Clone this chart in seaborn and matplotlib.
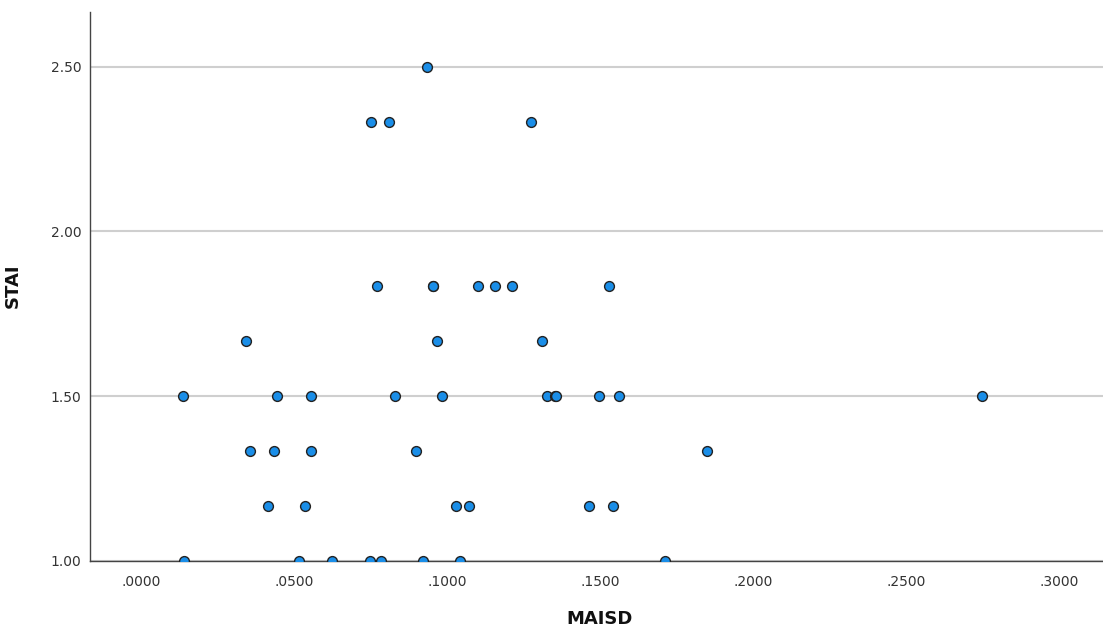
import numpy as np
import pandas as pd
import matplotlib
matplotlib.use("Agg")
import matplotlib.pyplot as plt
import seaborn as sns

# MAISD vs STAI values
maisd = [
    0.0935,
    0.0752, 0.0810, 0.1275,
    0.0771, 0.0953, 0.0954, 0.1101, 0.1157, 0.1212, 0.1529,
    0.0343, 0.0967, 0.1310,
    0.0137, 0.0444, 0.0556, 0.0830, 0.0984, 0.1327, 0.1353, 0.1355, 0.1497, 0.1562, 0.2748,
    0.0356, 0.0435, 0.0556, 0.0899, 0.1850,
    0.0415, 0.0536, 0.1029, 0.1072, 0.1464, 0.1542,
    0.0141, 0.0516, 0.0624, 0.0748, 0.0784, 0.0922, 0.1042, 0.1712,
]
stai = (
    [2.5]
    + [7 / 3] * 3
    + [11 / 6] * 7
    + [5 / 3] * 3
    + [1.5] * 11
    + [4 / 3] * 5
    + [7 / 6] * 6
    + [1.0] * 8
)
x_ticks = [0.0, 0.05, 0.10, 0.15, 0.20, 0.25, 0.30]
x_tick_labels = [".0000", ".0500", ".1000", ".1500", ".2000", ".2500", ".3000"]
y_ticks = [1.0, 1.5, 2.0, 2.5]
y_tick_labels = ["1.00", "1.50", "2.00", "2.50"]

df = pd.DataFrame({"MAISD": maisd, "STAI": stai})

sns.set_style("white")
plt.rcParams['font.family'] = ['DejaVu Sans']

fig = plt.figure(figsize=(11.03, 6.30), dpi=100)
ax = fig.add_axes([90 / 1103, 69 / 630, 1013 / 1103, 549.3 / 630])

sns.scatterplot(data=df, x="MAISD", y="STAI", ax=ax, s=50, color="#1A8EE8",
                edgecolor="#222222", linewidth=1.0, zorder=3)

ax.set_xlim(-0.0167, 0.3144)
ax.set_ylim(1.0, 2.667)
ax.set_xticks(x_ticks)
ax.set_xticklabels(x_tick_labels)
ax.set_yticks(y_ticks)
ax.set_yticklabels(y_tick_labels)
ax.tick_params(axis="both", length=0, labelsize=10, labelcolor="#333333")
ax.tick_params(axis="x", pad=10)
ax.tick_params(axis="y", pad=6)

ax.yaxis.grid(True, color="#cfcfcf", linewidth=1.5, zorder=0)
ax.xaxis.grid(False)
ax.set_axisbelow(True)
for side in ["top", "right"]:
    ax.spines[side].set_visible(False)
for side in ["left", "bottom"]:
    ax.spines[side].set_color("#444444")
    ax.spines[side].set_linewidth(1.0)

ax.set_xlabel("MAISD", fontsize=13, fontweight="bold", color="#111111")
ax.set_ylabel("STAI", fontsize=13, fontweight="bold", color="#111111")
ax.xaxis.set_label_coords((600 - 90) / 1013, -(610 - 561) / 549.3)
ax.yaxis.set_label_coords(-(90 - 22) / 1013, (561 - 286) / 549.3)

plt.savefig("out.png", dpi=100)
